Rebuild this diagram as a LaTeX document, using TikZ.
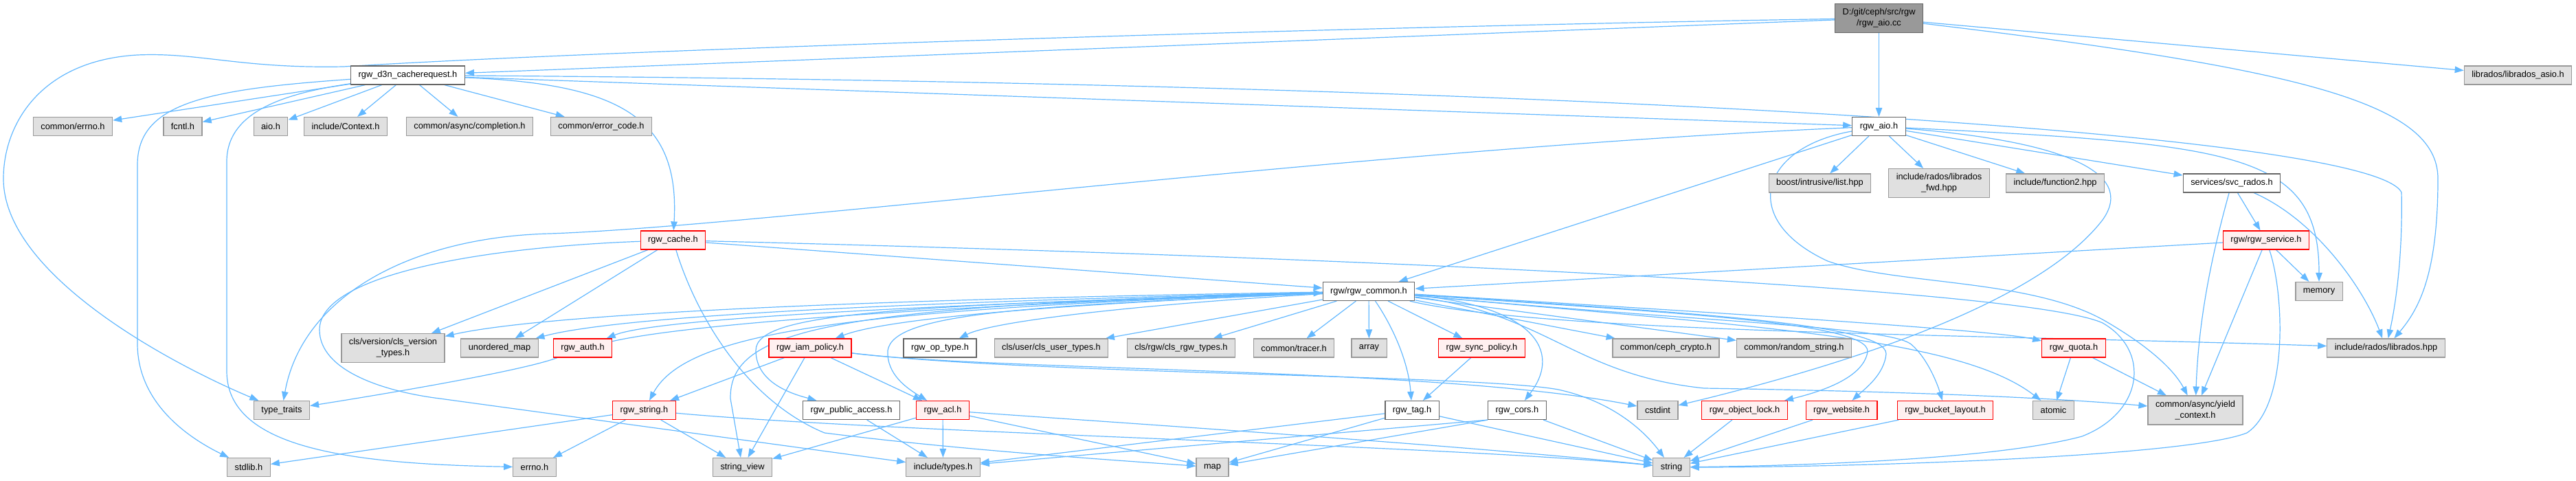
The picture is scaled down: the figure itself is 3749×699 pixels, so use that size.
\documentclass[tikz,border=0pt]{standalone}
\usepackage{fontspec}
\setmainfont{Liberation Sans}
\usepackage{xcolor}
\usetikzlibrary{arrows.meta, backgrounds}

\definecolor{edgeblue}{HTML}{63B8FF}
\definecolor{rootfill}{HTML}{999999}
\definecolor{hdrdraw}{HTML}{666666}
\definecolor{extfill}{HTML}{E0E0E0}
\definecolor{extdraw}{HTML}{999999}
\definecolor{truncfill}{HTML}{FFF0F0}
\definecolor{truncdraw}{HTML}{FF0000}

\begin{document}
\begin{tikzpicture}[
    x=1pt, y=-1pt,
    hdr/.style={
        rectangle,
        draw=hdrdraw,
        fill=white,
        line width=1.2pt,
        inner xsep=11pt,
        inner ysep=7pt,
        minimum height=27pt,
        align=center,
        font=\fontsize{12.8}{16}\selectfont
    },
    mainfile/.style={hdr, fill=rootfill},
    ext/.style={hdr, draw=extdraw, fill=extfill},
    trunc/.style={hdr, draw=truncdraw, fill=truncfill},
    dep/.style={draw=edgeblue, line width=1.2pt, -{Triangle[length=13pt,width=9.5pt]}}
]
\useasboundingbox (0,0) rectangle (3749,699);

% Main file
\node[mainfile] (root) at (2734.5, 26.5) {D:/git/ceph/src/rgw\\/rgw\_aio.cc};

% First level
\node[hdr] (d3n) at (593.5, 109.5) {rgw\_d3n\_cacherequest.h};
\node[ext] (libasio) at (3664.5, 109.5) {librados/librados\_asio.h};
\node[hdr] (aioh) at (2734.5, 184) {rgw\_aio.h};

% Includes of rgw_d3n_cacherequest.h
\node[ext] (cerrno) at (106, 184) {common/errno.h};
\node[ext] (fcntl) at (266, 184) {fcntl.h};
\node[ext] (aio) at (394, 184) {aio.h};
\node[ext] (context) at (503, 184) {include/Context.h};
\node[ext] (completion) at (683.5, 184) {common/async/completion.h};
\node[ext] (errcode) at (875, 184) {common/error\_code.h};
\node[trunc] (cache) at (979.5, 349.5) {rgw\_cache.h};

% Includes of rgw_aio.h
\node[ext] (ilist) at (2648.5, 266.5) {boost/intrusive/list.hpp};
\node[ext] (radosfwd) at (2822, 266.5) {include/rados/librados\\\_fwd.hpp};
\node[ext] (func2) at (2991, 266.5) {include/function2.hpp};
\node[hdr] (svcrados) at (3248, 266.5) {services/svc\_rados.h};
\node[trunc] (service) at (3298, 349.5) {rgw/rgw\_service.h};
\node[ext] (memory) at (3375, 424) {memory};

% rgw_common.h
\node[hdr] (common) at (1992, 424) {rgw/rgw\_common.h};

% Second row
\node[ext] (clsver) at (572, 506.5) {cls/version/cls\_version\\\_types.h};
\node[ext] (umap) at (727, 506.5) {unordered\_map};
\node[trunc] (auth) at (848, 506.5) {rgw\_auth.h};
\node[trunc] (iam) at (1179, 506.5) {rgw\_iam\_policy.h};
\node[hdr] (optype) at (1368, 506.5) {rgw\_op\_type.h};
\node[ext] (clsuser) at (1530, 506.5) {cls/user/cls\_user\_types.h};
\node[ext] (clsrgw) at (1719, 506.5) {cls/rgw/cls\_rgw\_types.h};
\node[ext] (tracer) at (1883, 506.5) {common/tracer.h};
\node[ext] (array) at (1992.5, 506.5) {array};
\node[trunc] (sync) at (2156.5, 506.5) {rgw\_sync\_policy.h};
\node[ext] (crypto) at (2424.5, 506.5) {common/ceph\_crypto.h};
\node[ext] (random) at (2611, 506.5) {common/random\_string.h};
\node[trunc] (quota) at (3018, 506.5) {rgw\_quota.h};
\node[ext] (librados) at (3472.5, 506.5) {include/rados/librados.hpp};

% Third row
\node[ext] (typetraits) at (410, 597) {type\_traits};
\node[trunc] (rstring) at (937.5, 597) {rgw\_string.h};
\node[hdr] (pubacc) at (1239, 597) {rgw\_public\_access.h};
\node[trunc] (acl) at (1372, 597) {rgw\_acl.h};
\node[hdr] (tag) at (2055, 597) {rgw\_tag.h};
\node[hdr] (cors) at (2208, 597) {rgw\_cors.h};
\node[ext] (cstdint) at (2412.5, 597) {cstdint};
\node[trunc] (objlock) at (2539, 597) {rgw\_object\_lock.h};
\node[trunc] (website) at (2680, 597) {rgw\_website.h};
\node[trunc] (layout) at (2831, 597) {rgw\_bucket\_layout.h};
\node[ext] (atomic) at (2988.5, 597) {atomic};
\node[ext] (yield) at (3195, 597) {common/async/yield\\\_context.h};

% Bottom row
\node[ext] (stdlib) at (362, 680) {stdlib.h};
\node[ext] (errnoh) at (778, 680) {errno.h};
\node[ext] (strview) at (1080.5, 680) {string\_view};
\node[ext] (types) at (1372.5, 680) {include/types.h};
\node[ext] (map) at (1764.5, 680) {map};
\node[ext] (string) at (2432.5, 680) {string};

\begin{scope}[on background layer]
% rgw_aio.cc
\draw[dep] (root) -- (d3n);
\draw[dep] (root) -- (aioh);
\draw[dep] (root) .. controls (2000,38) and (900,72) .. (500,97) .. controls (350,100) and (290,76) .. (200,80) .. controls (60,88) and (5,180) .. (5,260) .. controls (5,400) and (250,530) .. (typetraits);
\draw[dep] (root) -- (libasio);
\draw[dep] (root) .. controls (3350,100) and (3548,150) .. (3548,260) .. controls (3548,400) and (3520,450) .. (librados);

% rgw_d3n_cacherequest.h
\draw[dep] (d3n) -- (cerrno);
\draw[dep] (d3n) -- (fcntl);
\draw[dep] (d3n) -- (aio);
\draw[dep] (d3n) -- (context);
\draw[dep] (d3n) -- (completion);
\draw[dep] (d3n) -- (errcode);
\draw[dep] (d3n) .. controls (300,130) and (200,150) .. (200,240) -- (200,500) .. controls (200,590) and (280,640) .. (stdlib);
\draw[dep] (d3n) .. controls (420,135) and (330,160) .. (330,235) -- (330,540) .. controls (330,650) and (500,675) .. (errnoh);
\draw[dep] (d3n) .. controls (900,122) and (990,170) .. (cache);
\draw[dep] (d3n) -- (aioh);
\draw[dep] (d3n) .. controls (2200,120) and (3450,190) .. (3495,280) .. controls (3497,380) and (3485,450) .. (librados);

% rgw_cache.h
\draw[dep] (cache) -- (clsver);
\draw[dep] (cache) -- (umap);
\draw[dep] (cache) -- (common);
\draw[dep] (cache) .. controls (2000,375) and (2950,420) .. (3060,470) .. controls (3130,510) and (3120,600) .. (3030,635) .. controls (2900,670) and (2600,678) .. (string);
\draw[dep] (cache) .. controls (700,360) and (465,400) .. (465,480) .. controls (465,540) and (560,570) .. (640,580) -- (types);
\draw[dep] (cache) .. controls (1010,450) and (1080,580) .. (1200,630) .. controls (1400,655) and (1600,668) .. (map);

% rgw_aio.h
\draw[dep] (aioh) -- (ilist);
\draw[dep] (aioh) -- (radosfwd);
\draw[dep] (aioh) -- (func2);
\draw[dep] (aioh) -- (common);
\draw[dep] (aioh) .. controls (2000,215) and (1100,330) .. (800,340) .. controls (600,345) and (440,430) .. (typetraits);
\draw[dep] (aioh) .. controls (2560,215) and (2530,320) .. (2660,380) .. controls (2760,415) and (2950,405) .. (3060,465) .. controls (3130,505) and (3165,540) .. (yield);
\draw[dep] (aioh) .. controls (3000,205) and (3110,250) .. (3060,320) .. controls (2960,450) and (2650,540) .. (cstdint);
\draw[dep] (aioh) .. controls (3250,210) and (3375,220) .. (memory);
\draw[dep] (aioh) -- (svcrados);

% services/svc_rados.h, rgw/rgw_service.h
\draw[dep] (svcrados) .. controls (3225,350) and (3200,450) .. (yield);
\draw[dep] (svcrados) -- (service);
\draw[dep] (svcrados) .. controls (3370,320) and (3440,420) .. (librados);
\draw[dep] (service) -- (common);
\draw[dep] (service) -- (yield);
\draw[dep] (service) -- (memory);
\draw[dep] (service) .. controls (3325,430) and (3330,590) .. (3270,630) .. controls (3180,665) and (2700,680) .. (string);

% rgw/rgw_common.h
\draw[dep] (common) .. controls (1300,435) and (800,455) .. (clsver);
\draw[dep] (common) .. controls (1300,440) and (900,460) .. (umap);
\draw[dep] (common) .. controls (1300,445) and (950,465) .. (auth);
\draw[dep] (common) .. controls (1250,450) and (1000,480) .. (rstring);
\draw[dep] (common) .. controls (1200,445) and (1062,480) .. (1063,580) -- (strview);
\draw[dep] (common) .. controls (1300,445) and (1100,455) .. (1100,510) .. controls (1100,560) and (1160,575) .. (pubacc);
\draw[dep] (common) .. controls (1600,440) and (1300,460) .. (iam);
\draw[dep] (common) .. controls (1500,445) and (1300,455) .. (1292,510) .. controls (1290,545) and (1320,565) .. (acl);
\draw[dep] (common) .. controls (1700,440) and (1450,465) .. (optype);
\draw[dep] (common) -- (clsuser);
\draw[dep] (common) -- (clsrgw);
\draw[dep] (common) -- (tracer);
\draw[dep] (common) -- (array);
\draw[dep] (common) .. controls (2030,480) and (2050,530) .. (tag);
\draw[dep] (common) -- (sync);
\draw[dep] (common) .. controls (2230,445) and (2275,510) .. (cors);
\draw[dep] (common) -- (crypto);
\draw[dep] (common) -- (random);
\draw[dep] (common) .. controls (2500,455) and (2900,480) .. (quota);
\draw[dep] (common) .. controls (2420,455) and (2722,468) .. (2718,512) .. controls (2712,550) and (2650,570) .. (objlock);
\draw[dep] (common) .. controls (2450,455) and (2745,470) .. (2745,515) .. controls (2742,545) and (2715,565) .. (website);
\draw[dep] (common) .. controls (2500,470) and (2740,475) .. (2780,500) .. controls (2805,520) and (2820,560) .. (layout);
\draw[dep] (common) .. controls (2550,475) and (2850,490) .. (atomic);
\draw[dep] (common) .. controls (2250,485) and (2900,487) .. (librados);
\draw[dep] (common) .. controls (2250,455) and (2290,545) .. (2480,565) .. controls (2800,570) and (3000,580) .. (yield);

% rgw_iam_policy.h
\draw[dep] (iam) -- (rstring);
\draw[dep] (iam) -- (strview);
\draw[dep] (iam) -- (acl);
\draw[dep] (iam) .. controls (1450,540) and (2100,535) .. (cstdint);
\draw[dep] (iam) .. controls (1500,545) and (2150,545) .. (2268,567) .. controls (2350,585) and (2395,630) .. (string);

% rgw_auth.h
\draw[dep] (auth) .. controls (760,540) and (550,575) .. (typetraits);
\draw[dep] (auth) .. controls (1000,472) and (1350,445) .. (common);

% rgw_string.h
\draw[dep] (rstring) -- (errnoh);
\draw[dep] (rstring) -- (strview);
\draw[dep] (rstring) -- (stdlib);
\draw[dep] (rstring) .. controls (1300,630) and (2100,648) .. (string);

% rgw_public_access.h, rgw_acl.h
\draw[dep] (pubacc) -- (types);
\draw[dep] (acl) -- (types);
\draw[dep] (acl) -- (map);
\draw[dep] (acl) -- (strview);
\draw[dep] (acl) .. controls (1700,620) and (2150,650) .. (string);

% rgw_sync_policy.h, rgw_tag.h, rgw_cors.h
\draw[dep] (sync) -- (tag);
\draw[dep] (tag) -- (types);
\draw[dep] (tag) -- (map);
\draw[dep] (tag) -- (string);
\draw[dep] (cors.south west) -- (types);
\draw[dep] (cors.south west) -- (map);
\draw[dep] (cors) -- (string);

% rgw_quota.h and the rest
\draw[dep] (quota) -- (atomic);
\draw[dep] (quota) -- (yield);
\draw[dep] (objlock) -- (string);
\draw[dep] (website) -- (string);
\draw[dep] (layout) -- (string);
\end{scope}

\end{tikzpicture}
\end{document}
